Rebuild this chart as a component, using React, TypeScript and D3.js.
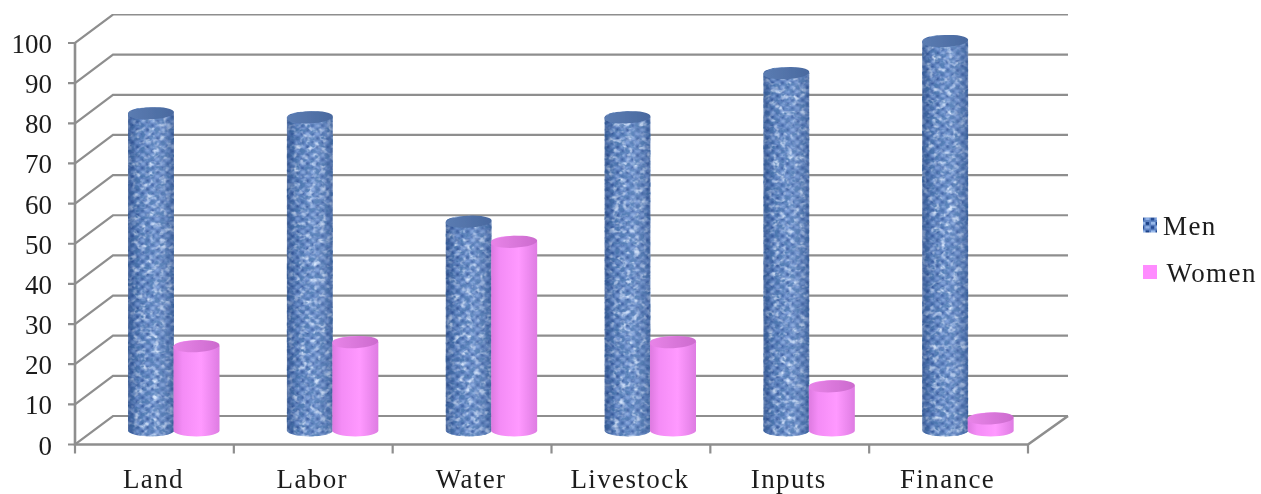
import React from "react";
import * as d3 from "d3";

const categories = ["Land", "Labor", "Water", "Livestock", "Inputs", "Finance"];
const men = [79, 78, 52, 78, 89, 97];
const women = [21, 22, 47, 22, 11, 3];
const yTicks = [0, 10, 20, 30, 40, 50, 60, 70, 80, 90, 100];
const legendLabels = ["Men", "Women"];

const W = 1261, H = 494;
const FONT = "'Liberation Serif','Times New Roman',serif";
const y = d3.scaleLinear().domain([0, 100]).range([444.5, 43]);
const x = d3.scaleBand<string>().domain(categories).range([75, 1028]);
const DX = 38, DY = -28.5, BACK_R = 1068;
const GRID = "#8e8e8e";
const RX = 23, RY = 6;
const BASE = -14;
const TEXT = "#1c1c1c";

function cylPath(cx: number, top: number, bottom: number) {
  return `M${cx - RX},${top}A${RX},${RY} 0 0 1 ${cx + RX},${top}L${cx + RX},${bottom}A${RX},${RY} 0 0 1 ${cx - RX},${bottom}Z`;
}

function Cylinder({ cx, value, kind, id }: { cx: number; value: number; kind: "m" | "w"; id: string }) {
  const top = y(value) + BASE, bottom = y(0) + BASE;
  const tilt = `rotate(-3 ${cx} ${top})`;
  if (kind === "w") {
    return (
      <g>
        <path d={cylPath(cx, top, bottom)} fill="url(#pinkBody)" />
        <ellipse cx={cx} cy={top} rx={RX} ry={RY} transform={tilt} fill="url(#pinkTop)" />
      </g>
    );
  }
  const d = cylPath(cx, top, bottom);
  return (
    <g>
      <clipPath id={id}><path d={d} /></clipPath>
      <g clipPath={`url(#${id})`}>
        <rect x={cx - RX} y={top - RY} width={RX * 2} height={bottom - top + RY * 2} fill="url(#weave)" filter="url(#tiny)" />
        <rect x={cx - RX} y={top - RY} width={RX * 2} height={bottom - top + RY * 2} filter="url(#noiseLight)" />
        <rect x={cx - RX} y={top - RY} width={RX * 2} height={bottom - top + RY * 2} filter="url(#noiseDark)" />
        <path d={d} fill="url(#blueShade)" />
      </g>
      <ellipse cx={cx} cy={top} rx={RX} ry={RY} transform={tilt} fill="url(#blueTop)" />
    </g>
  );
}

export default function App() {
  const ticks = [...categories.map((c) => x(c) as number), x.range()[1]];
  return (
    <svg width={W} height={H} style={{ position: "absolute", left: 0, top: 0, background: "#fff" }}>
      <defs>
        <filter id="soft" x="0" y="0" width="100%" height="100%">
          <feGaussianBlur stdDeviation="0.5" />
        </filter>
        <filter id="tiny" x="0" y="0" width="100%" height="100%">
          <feGaussianBlur stdDeviation="0.8" />
        </filter>
        <filter id="noiseLight" x="0" y="0" width="100%" height="100%">
          <feTurbulence type="fractalNoise" baseFrequency="0.15 0.18" numOctaves="2" seed="4" />
          <feColorMatrix values="0 0 0 0 0.7  0 0 0 0 0.82  0 0 0 0 1  3 0 0 0 -1.45" />
        </filter>
        <filter id="noiseDark" x="0" y="0" width="100%" height="100%">
          <feTurbulence type="fractalNoise" baseFrequency="0.2 0.24" numOctaves="2" seed="11" />
          <feColorMatrix values="0 0 0 0 0.08  0 0 0 0 0.2  0 0 0 0 0.46  0 3.4 0 0 -1.55" />
        </filter>
        <pattern id="weave" patternUnits="userSpaceOnUse" width="10" height="8.5">
          <rect width="10" height="8.5" fill="#5f84c4" />
          <rect x="6" y="1" width="3" height="3" fill="#1d4288" />
          <rect x="1" y="5" width="3" height="3" fill="#264c93" />
          <rect x="1" y="1" width="4" height="2.5" fill="#9dbcec" />
          <rect x="5.5" y="5" width="4" height="2.5" fill="#91b2e8" />
        </pattern>
        <linearGradient id="blueShade" x1="0" x2="1" y1="0" y2="0">
          <stop offset="0" stopColor="#14346f" stopOpacity="0.5" />
          <stop offset="0.22" stopColor="#14346f" stopOpacity="0.1" />
          <stop offset="0.55" stopColor="#cfe0ff" stopOpacity="0.08" />
          <stop offset="1" stopColor="#14346f" stopOpacity="0.42" />
        </linearGradient>
        <linearGradient id="blueTop" x1="0" x2="1" y1="0" y2="0">
          <stop offset="0" stopColor="#5b7cb2" />
          <stop offset="1" stopColor="#49699f" />
        </linearGradient>
        <linearGradient id="pinkBody" x1="0" x2="1" y1="0" y2="0">
          <stop offset="0" stopColor="#dd7ae0" />
          <stop offset="0.2" stopColor="#f48cf6" />
          <stop offset="0.6" stopColor="#ff99ff" />
          <stop offset="1" stopColor="#de7ce2" />
        </linearGradient>
        <linearGradient id="pinkTop" x1="0" x2="1" y1="0" y2="0">
          <stop offset="0" stopColor="#e884e8" />
          <stop offset="1" stopColor="#cc6bce" />
        </linearGradient>
      </defs>
      <g filter="url(#soft)">
        {yTicks.map((t) => (
          <path key={t} d={`M68,${y(t)}L75,${y(t)}L${75 + DX},${y(t) + DY}L${BACK_R},${y(t) + DY}`} stroke={GRID} strokeWidth={2.2} fill="none" />
        ))}
        <path d={`M75,${y(100)}L75,${y(0)}L1028,${y(0)}L${BACK_R},${y(0) + DY}`} stroke={GRID} strokeWidth={2.6} fill="none" />
        {ticks.map((t) => (
          <line key={t} x1={t} x2={t} y1={y(0)} y2={y(0) + 9} stroke={GRID} strokeWidth={2.2} />
        ))}
        {categories.map((c, i) => {
          const b = x(c) as number;
          return (
            <g key={c}>
              <Cylinder cx={b + 76} value={men[i]} kind="m" id={`cm${i}`} />
              <Cylinder cx={b + 121.5} value={women[i]} kind="w" id={`cw${i}`} />
            </g>
          );
        })}
        {yTicks.map((t) => (
          <text key={t} x={52} y={y(t) + 10} textAnchor="end" fontFamily={FONT} fontSize={27} fill={TEXT}>{t}</text>
        ))}
        {categories.map((c) => (
          <text key={c} x={(x(c) as number) + x.bandwidth() / 2 - 1} y={488} textAnchor="middle" fontFamily={FONT} fontSize={27} letterSpacing={1.4} fill={TEXT}>{c}</text>
        ))}
        <rect x={1143} y={217.5} width={14} height={15} fill="url(#weave)" />
        <rect x={1143} y={265} width={14} height={14} fill="#ff8cff" />
        {legendLabels.map((l, i) => (
          <text key={l} x={1163 + i * 3.5} y={235 + i * 47} fontFamily={FONT} fontSize={27} letterSpacing={1.4} fill={TEXT}>{l}</text>
        ))}
      </g>
    </svg>
  );
}
